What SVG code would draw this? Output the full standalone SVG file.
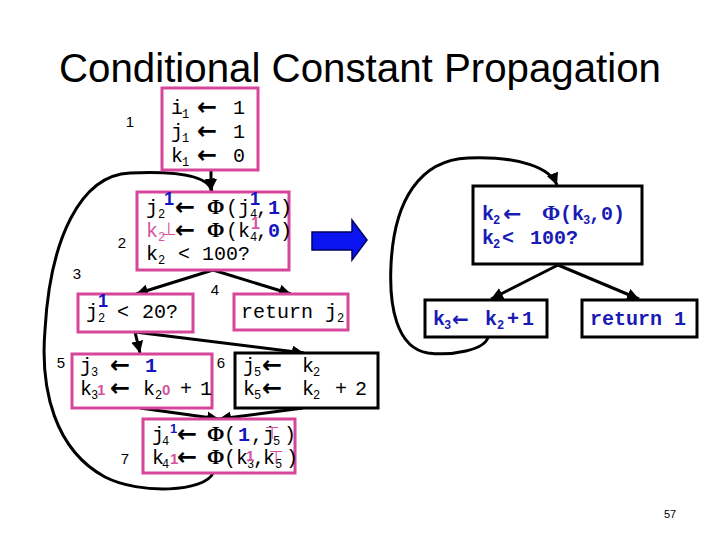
<svg xmlns="http://www.w3.org/2000/svg" width="720" height="540" viewBox="0 0 720 540">
<style>
.bg{fill:#fff}
.pbox{fill:#fff;stroke:#D6479B;stroke-width:3}
.kbox{fill:#fff;stroke:#000;stroke-width:3}
.t{font-family:"Liberation Mono","DejaVu Sans Mono",monospace;font-size:20px;fill:#000}
.s{font-size:12px}
.ar{font-family:"DejaVu Sans",sans-serif;font-size:24px;font-weight:bold}
.phi{font-family:"Liberation Serif",serif;font-size:21px;font-weight:bold}
.bl{fill:#1515C0;font-weight:bold}
.pk{fill:#D6559E}
.sup{font-family:"Liberation Sans",Arial,sans-serif;font-weight:bold}
.rb{font-family:"Liberation Mono",monospace;font-size:20px;font-weight:bold;fill:#1A1AB4}
.lab{font-family:"Liberation Sans",Arial,sans-serif;font-size:15px;fill:#000;text-anchor:middle}
.edge{fill:none;stroke:#000;stroke-width:3}
</style>
<defs>
<marker id="ah" markerUnits="userSpaceOnUse" markerWidth="14" markerHeight="12" refX="12" refY="6" orient="auto">
<path d="M0,0 L12,6 L0,12 Z" fill="#000"/>
</marker>
</defs>
<rect class="bg" x="0" y="0" width="720" height="540"/>
<text x="360" y="82" font-family="'Liberation Sans',Arial,sans-serif" font-size="40" text-anchor="middle" textLength="602" lengthAdjust="spacingAndGlyphs" fill="#000">Conditional Constant Propagation</text>

<g id="labels">
<text class="lab" x="130" y="127">1</text>
<text class="lab" x="122" y="248">2</text>
<text class="lab" x="77" y="279">3</text>
<text class="lab" x="215" y="295">4</text>
<text class="lab" x="61" y="368">5</text>
<text class="lab" x="221" y="368">6</text>
<text class="lab" x="125" y="464">7</text>
</g>

<g id="edges">
<path class="edge" d="M211,170 L211,191" marker-end="url(#ah)"/>
<path class="edge" d="M213,270 L136,294" marker-end="url(#ah)"/>
<path class="edge" d="M213,270 L291,294" marker-end="url(#ah)"/>
<path class="edge" d="M135,332 L140,353" marker-end="url(#ah)"/>
<path class="edge" d="M135,332 L304,353" marker-end="url(#ah)"/>
<path class="edge" d="M140,408 L219,419" marker-end="url(#ah)"/>
<path class="edge" d="M303,408 L219,419" marker-end="url(#ah)"/>
<path class="edge" d="M213,473 C205,492 140,495 105,477 C55,450 40,390 45,330 C50,240 80,175 130,173 C175,171 208,175 212,191" marker-end="url(#ah)"/>
<path class="edge" d="M558,265 L491,299" marker-end="url(#ah)"/>
<path class="edge" d="M558,265 L639,299" marker-end="url(#ah)"/>
<path class="edge" d="M488,337 C485,350 452,356 428,353 C396,348 389,305 391,265 C394,200 420,160 468,158 C520,156 550,168 557,185" marker-end="url(#ah)"/>
</g>

<g id="n1">
<rect class="pbox" x="162" y="88" width="96" height="82"/>
<text class="t" y="114"><tspan x="171">i</tspan><tspan class="s" x="182" y="118">1</tspan><tspan class="ar" x="197" y="115">←</tspan><tspan x="233" y="114">1</tspan></text>
<text class="t" y="138"><tspan x="171">j</tspan><tspan class="s" x="182" y="142">1</tspan><tspan class="ar" x="197" y="139">←</tspan><tspan x="233" y="138">1</tspan></text>
<text class="t" y="162"><tspan x="171">k</tspan><tspan class="s" x="182" y="166">1</tspan><tspan class="ar" x="197" y="163">←</tspan><tspan x="233" y="162">0</tspan></text>
</g>

<g id="n2">
<rect class="pbox" x="137" y="192" width="152" height="78"/>
<text class="t" y="214"><tspan x="146">j</tspan><tspan class="s" x="158" y="218">2</tspan><tspan class="ar" x="175" y="215">←</tspan><tspan class="phi" x="207" y="214">Φ</tspan><tspan x="226" y="214">(j</tspan><tspan class="s" x="250" y="218">4</tspan><tspan x="256" y="214">,</tspan><tspan class="bl" x="268" y="214">1</tspan><tspan x="280" y="214">)</tspan></text>
<text class="sup bl" x="164" y="205" font-size="18">1</text>
<text class="sup bl" x="250" y="205" font-size="18">1</text>
<text class="t" y="237"><tspan class="pk" x="146">k</tspan><tspan class="s pk" x="158" y="241">2</tspan><tspan class="ar" x="175" y="238">←</tspan><tspan class="phi" x="207" y="237">Φ</tspan><tspan x="226" y="237">(k</tspan><tspan class="s" x="250" y="241">4</tspan><tspan x="256" y="237">,</tspan><tspan class="bl" x="268" y="237">0</tspan><tspan x="280" y="237">)</tspan></text>
<text x="161" y="235" font-family="'DejaVu Sans',sans-serif" font-size="18" class="pk">⊥</text>
<text class="sup pk" x="251" y="229" font-size="16">1</text>
<text class="t" y="260"><tspan x="146">k</tspan><tspan class="s" x="158" y="264">2</tspan><tspan x="178" y="260">&lt;</tspan><tspan x="202" y="260">100?</tspan></text>
</g>

<g id="n3">
<rect class="pbox" x="78" y="294" width="115" height="38"/>
<text class="t" y="318"><tspan x="86">j</tspan><tspan class="s" x="98" y="322">2</tspan><tspan x="117" y="318">&lt;</tspan><tspan x="142" y="318">20?</tspan></text>
<text class="sup bl" x="98" y="307" font-size="18">1</text>
</g>

<g id="n4">
<rect class="pbox" x="234" y="294" width="114" height="36"/>
<text class="t" y="318"><tspan x="241">return</tspan><tspan x="325" y="318">j</tspan><tspan class="s" x="337" y="322">2</tspan></text>
</g>

<g id="n5">
<rect class="pbox" x="72" y="354" width="140" height="54"/>
<text class="t" y="372"><tspan x="80">j</tspan><tspan class="s" x="91" y="376">3</tspan><tspan class="ar" x="110" y="373">←</tspan><tspan class="bl" x="145" y="372">1</tspan></text>
<text class="t" y="395"><tspan x="80">k</tspan><tspan class="s" x="91" y="399">3</tspan><tspan class="ar" x="110" y="396">←</tspan><tspan x="143" y="395">k</tspan><tspan class="s" x="155" y="399">2</tspan><tspan x="180" y="395">+</tspan><tspan x="200" y="395">1</tspan></text>
<text class="sup pk" x="97" y="395" font-size="15">1</text>
<text class="sup pk" x="162" y="395" font-size="15">0</text>
</g>

<g id="n6">
<rect class="kbox" x="235" y="353" width="143" height="55"/>
<text class="t" y="372"><tspan x="243">j</tspan><tspan class="s" x="254" y="376">5</tspan><tspan class="ar" x="262" y="373">←</tspan><tspan x="302" y="372">k</tspan><tspan class="s" x="313" y="376">2</tspan></text>
<text class="t" y="395"><tspan x="243">k</tspan><tspan class="s" x="254" y="399">5</tspan><tspan class="ar" x="262" y="396">←</tspan><tspan x="302" y="395">k</tspan><tspan class="s" x="313" y="399">2</tspan><tspan x="335" y="395">+</tspan><tspan x="355" y="395">2</tspan></text>
</g>

<g id="n7">
<rect class="pbox" x="143" y="419" width="152" height="54"/>
<text class="t" y="441"><tspan x="152">j</tspan><tspan class="s" x="162" y="445">4</tspan><tspan class="ar" x="177" y="442">←</tspan><tspan class="phi" x="207" y="441">Φ</tspan><tspan x="224" y="441">(</tspan><tspan class="bl" x="238" y="441">1</tspan><tspan x="251" y="441">,</tspan><tspan x="263" y="441">j</tspan><tspan class="s" x="273" y="445">5</tspan><tspan x="284" y="441">)</tspan></text>
<text class="sup bl" x="170" y="433" font-size="13">1</text>
<text x="265" y="439" font-family="'DejaVu Sans',sans-serif" font-size="17" class="pk">⊤</text>
<text class="t" y="464"><tspan x="152">k</tspan><tspan class="s" x="162" y="468">4</tspan><tspan class="ar" x="177" y="465">←</tspan><tspan class="phi" x="207" y="464">Φ</tspan><tspan x="224" y="464">(k</tspan><tspan class="s" x="247" y="468">3</tspan><tspan x="253" y="464">,</tspan><tspan x="263" y="464">k</tspan><tspan class="s" x="275" y="468">5</tspan><tspan x="286" y="464">)</tspan></text>
<text class="sup pk" x="170" y="464" font-size="15">1</text>
<text class="sup pk" x="246" y="461" font-size="15">1</text>
<text x="269" y="463" font-family="'DejaVu Sans',sans-serif" font-size="17" class="pk">⊤</text>
</g>

<g id="bigarrow">
<polygon points="312,232 352,232 352,220 367,240 352,260 352,250 312,250" fill="#0A14F0" stroke="#000060" stroke-width="1.5"/>
</g>

<g id="nA">
<rect class="kbox" x="473" y="186" width="169" height="78"/>
<text class="rb" y="220"><tspan x="482">k</tspan><tspan font-size="12" x="493" y="224">2</tspan><tspan font-family="'DejaVu Sans',sans-serif" font-size="22" x="503" y="221">←</tspan><tspan font-family="'Liberation Serif',serif" font-size="22" x="542" y="220">Φ</tspan><tspan x="560" y="220">(k</tspan><tspan font-size="12" x="583" y="224">3</tspan><tspan x="589" y="220">,0)</tspan></text>
<text class="rb" y="244"><tspan x="482">k</tspan><tspan font-size="12" x="493" y="248">2</tspan><tspan x="502" y="244">&lt;</tspan><tspan x="530" y="244">100?</tspan></text>
</g>

<g id="nB">
<rect class="kbox" x="425" y="300" width="122" height="37"/>
<text class="rb" y="325"><tspan x="433">k</tspan><tspan font-size="12" x="444" y="329">3</tspan><tspan font-family="'DejaVu Sans',sans-serif" font-size="20" x="452" y="326">←</tspan><tspan x="485" y="325">k</tspan><tspan font-size="12" x="497" y="329">2</tspan><tspan x="507" y="325">+</tspan><tspan x="522" y="325">1</tspan></text>
</g>

<g id="nC">
<rect class="kbox" x="582" y="300" width="115" height="37"/>
<text class="rb" x="590" y="325">return 1</text>
</g>

<text x="670" y="518" font-family="'Liberation Sans',Arial,sans-serif" font-size="11" text-anchor="middle" fill="#000">57</text>
</svg>
